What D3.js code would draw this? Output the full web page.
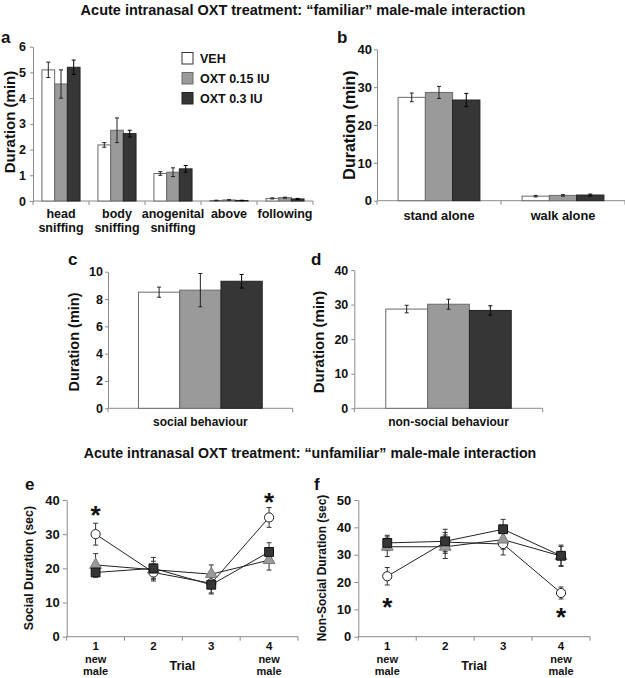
<!DOCTYPE html>
<html>
<head>
<meta charset="utf-8">
<script src="https://cdn.jsdelivr.net/npm/d3@7"></script>
<style>
body{margin:0;background:#fff;}
svg{display:block;font-family:"Liberation Sans",Arial,sans-serif;}
</style>
</head>
<body>
<script>
// ---------- DATA ----------
const seriesNames = ["VEH", "OXT 0.15 IU", "OXT 0.3 IU"];

// Panel a
const aCategories = [["head","sniffing"],["body","sniffing"],["anogenital","sniffing"],["above"],["following"]];
const aVEH = [5.1, 2.18, 1.07, 0.02, 0.10];
const aVEHerr = [0.30, 0.09, 0.07, 0.01, 0.02];
const aOXT015 = [4.55, 2.75, 1.12, 0.04, 0.13];
const aOXT015err = [0.55, 0.48, 0.17, 0.01, 0.02];
const aOXT03 = [5.2, 2.62, 1.25, 0.02, 0.08];
const aOXT03err = [0.28, 0.13, 0.13, 0.01, 0.02];
const aTicks = [0,1,2,3,4,5,6];

// Panel b
const bCategories = [["stand alone"],["walk alone"]];
const bVEH = [27.3, 1.2];   const bVEHerr = [1.15, 0.2];
const bOXT015 = [28.6, 1.4]; const bOXT015err = [1.6, 0.2];
const bOXT03 = [26.6, 1.5];  const bOXT03err = [1.75, 0.25];
const bTicks = [0,10,20,30,40];

// Panel c
const cCategories = [["social behaviour"]];
const cVEH = [8.5];   const cVEHerr = [0.37];
const cOXT015 = [8.65]; const cOXT015err = [1.22];
const cOXT03 = [9.3];  const cOXT03err = [0.5];
const cTicks = [0,2,4,6,8,10];

// Panel d
const dCategories = [["non-social behaviour"]];
const dVEH = [28.7];   const dVEHerr = [1.1];
const dOXT015 = [30.1]; const dOXT015err = [1.45];
const dOXT03 = [28.3];  const dOXT03err = [1.35];
const dTicks = [0,10,20,30,40];

// Panels e, f (trials)
const trials = ["1","2","3","4"];
const trialSub = [["new","male"],[],[],["new","male"]];
const eVEH = [30.0, 18.8, 15.6, 34.9];   const eVEHerr = [3.2, 2.5, 2.8, 2.9];
const eOXT015 = [21.0, 19.6, 18.3, 22.4]; const eOXT015err = [3.3, 2.5, 2.7, 2.9];
const eOXT03 = [18.8, 20.0, 15.2, 24.8];  const eOXT03err = [1.4, 3.2, 2.7, 2.7];
const eTicks = [0,10,20,30,40];
const eStars = [{trial:"1", value:37.1},{trial:"4", value:40.9}];

const fVEH = [22.1, 34.6, 33.9, 16.0];   const fVEHerr = [3.2, 3.5, 4.0, 2.2];
const fOXT015 = [32.9, 32.9, 35.5, 29.5]; const fOXT015err = [3.6, 4.3, 3.5, 3.5];
const fOXT03 = [34.3, 34.9, 39.3, 29.6];  const fOXT03err = [2.8, 4.4, 3.6, 3.9];
const fTicks = [0,10,20,30,40,50];
const fStars = [{trial:"1", value:12.8},{trial:"4", value:9.1}];

// ---------- STYLE ----------
const barFill = ["#ffffff", "#9a9a9a", "#363636"];
const barStroke = ["#6a6a6a", "#6a6a6a", "#222222"];
const axisColor = "#8a8a8a";
const FONT = '"Liberation Sans",Arial,sans-serif';
const NARROW = '"Liberation Sans Narrow","Arial Narrow","Liberation Sans",Arial,sans-serif';
const fmt = d3.format("d");

const svg = d3.select("body").append("svg").attr("width",625).attr("height",678);

// Titles
svg.append("text").attr("x",303).attr("y",15).attr("text-anchor","middle")
  .attr("font-weight","bold").attr("font-size",14.5).attr("fill","#111")
  .text("Acute intranasal OXT treatment: \u201cfamiliar\u201d male-male interaction");
svg.append("text").attr("x",310).attr("y",458).attr("text-anchor","middle")
  .attr("font-weight","bold").attr("font-size",14.2).attr("fill","#111")
  .text("Acute intranasal OXT treatment: \u201cunfamiliar\u201d male-male interaction");

function panelLetter(t,x,y){
  svg.append("text").attr("x",x).attr("y",y).attr("font-weight","bold")
    .attr("font-size",17).attr("fill","#111").text(t);
}
function yLabel(t,x,y,size){
  svg.append("text").attr("transform",`translate(${x},${y}) rotate(-90)`)
    .attr("text-anchor","middle").attr("dominant-baseline","central")
    .attr("font-weight","bold").attr("font-size",size).attr("fill","#111").text(t);
}

function styleYAxis(g, fs){
  g.select(".domain").attr("stroke",axisColor);
  g.selectAll(".tick line").attr("stroke",axisColor);
  g.selectAll(".tick text").attr("font-weight","bold").attr("font-size",fs)
    .attr("fill","#111").attr("font-family",FONT);
}

function barPanel(o){
  const x = d3.scaleBand().domain(o.cats.map((c,i)=>i)).range([o.x0,o.x1]).padding(0);
  const bw = x.bandwidth();
  const xs = d3.scaleBand().domain([0,1,2]).range([bw*o.gap, bw*(1-o.gap)]).padding(0);
  const y = d3.scaleLinear().domain([0,o.max]).range([o.yBot,o.yTop]);
  const g = svg.append("g");
  const ya = g.append("g").attr("transform",`translate(${o.x0},0)`)
    .call(d3.axisLeft(y).tickValues(o.ticks).tickFormat(fmt).tickSize(o.tickSize||3).tickPadding(o.tickPad||3).tickSizeOuter(0));
  styleYAxis(ya, o.fs);
  g.append("line").attr("x1",o.x0).attr("x2",o.x1).attr("y1",o.yBot).attr("y2",o.yBot).attr("stroke",axisColor);
  const bounds = o.cats.map((c,i)=>x(i)).concat([o.x1]);
  g.selectAll(".bt").data(bounds).join("line").attr("x1",d=>d).attr("x2",d=>d)
    .attr("y1",o.yBot).attr("y2",o.yBot+4).attr("stroke",axisColor);
  o.series.forEach((s,si)=>{
    const gg = g.append("g");
    gg.selectAll("rect").data(s.vals).join("rect")
      .attr("x",(d,i)=>x(i)+xs(si)).attr("width",xs.bandwidth())
      .attr("y",d=>y(d)).attr("height",d=>y(0)-y(d))
      .attr("fill",barFill[si]).attr("stroke",barStroke[si]).attr("stroke-width",1);
    const cap = 2;
    s.vals.forEach((v,i)=>{
      const cx = x(i)+xs(si)+xs.bandwidth()/2;
      const e = s.errs[i];
      const col = si===2 ? "#000" : "#222";
      gg.append("line").attr("x1",cx).attr("x2",cx).attr("y1",y(v+e)).attr("y2",y(Math.max(0,v-e))).attr("stroke",col);
      gg.append("line").attr("x1",cx-cap).attr("x2",cx+cap).attr("y1",y(v+e)).attr("y2",y(v+e)).attr("stroke",col);
      gg.append("line").attr("x1",cx-cap).attr("x2",cx+cap).attr("y1",y(Math.max(0,v-e))).attr("y2",y(Math.max(0,v-e))).attr("stroke",col);
    });
  });
  o.cats.forEach((c,i)=>{
    const t = g.append("text").attr("x",x(i)+bw/2).attr("y",o.labY).attr("text-anchor","middle")
      .attr("font-weight","bold").attr("font-size",o.labFs).attr("fill","#111")
      .attr("font-family",o.labFont||FONT);
    c.forEach((line,li)=>{
      t.append("tspan").attr("x",x(i)+bw/2).attr("dy",li===0?0:o.labLh).text(line);
    });
  });
  return {x,y};
}

// Panel a
barPanel({cats:aCategories, series:[
  {vals:aVEH,errs:aVEHerr},{vals:aOXT015,errs:aOXT015err},{vals:aOXT03,errs:aOXT03err}],
  x0:33,x1:313,yTop:46.7,yBot:201,max:6,ticks:aTicks,gap:0.16,fs:12.5,tickSize:3,tickPad:4,
  labY:218,labFs:12.5,labLh:13.5,labFont:NARROW});
panelLetter("a",1,43);
yLabel("Duration (min)",9,122,15);
seriesNames.forEach((n,i)=>{
  svg.append("rect").attr("x",182).attr("y",52.5+i*20).attr("width",11).attr("height",11.5)
    .attr("fill",barFill[i]).attr("stroke",i===0?"#333":barStroke[i]);
  svg.append("text").attr("x",200).attr("y",63+i*20).attr("font-weight","bold")
    .attr("font-size",12.5).attr("fill","#111").text(n);
});

// Panel b
barPanel({cats:bCategories, series:[
  {vals:bVEH,errs:bVEHerr},{vals:bOXT015,errs:bOXT015err},{vals:bOXT03,errs:bOXT03err}],
  x0:377,x1:625,yTop:49.3,yBot:200.7,max:40,ticks:bTicks,gap:0.17,fs:13,tickSize:3,tickPad:2,
  labY:220,labFs:12.8,labLh:14});
panelLetter("b",337,43);
yLabel("Duration (min)",349,125,16);

// Panel c
barPanel({cats:cCategories, series:[
  {vals:cVEH,errs:cVEHerr},{vals:cOXT015,errs:cOXT015err},{vals:cOXT03,errs:cOXT03err}],
  x0:108,x1:292.7,yTop:271.7,yBot:408.3,max:10,ticks:cTicks,gap:0.165,fs:12.5,tickSize:3,tickPad:2,
  labY:426,labFs:12,labLh:14});
panelLetter("c",68,265);
yLabel("Duration (min)",74,342,14.5);

// Panel d
barPanel({cats:dCategories, series:[
  {vals:dVEH,errs:dVEHerr},{vals:dOXT015,errs:dOXT015err},{vals:dOXT03,errs:dOXT03err}],
  x0:354.3,x1:542.7,yTop:270,yBot:408.3,max:40,ticks:dTicks,gap:0.167,fs:12.5,tickSize:3,tickPad:3,
  labY:426,labFs:12,labLh:14});
panelLetter("d",311,265);
yLabel("Duration (min)",318,342,15);

// ---------- line panels ----------
function linePanel(o){
  const x = d3.scaleBand().domain(trials).range([o.x0,o.x1]).padding(0);
  const bw = x.bandwidth();
  const cx = t => x(t)+bw/2;
  const y = d3.scaleLinear().domain([0,o.max]).range([o.yBot,o.yTop]);
  const g = svg.append("g");
  const ya = g.append("g").attr("transform",`translate(${o.x0},0)`)
    .call(d3.axisLeft(y).tickValues(o.ticks).tickFormat(fmt).tickSize(4).tickPadding(3).tickSizeOuter(0));
  styleYAxis(ya, 13);
  g.append("line").attr("x1",o.x0).attr("x2",o.x1).attr("y1",o.yBot).attr("y2",o.yBot).attr("stroke",axisColor);
  const bounds = trials.map(t=>x(t)).concat([o.x1]);
  g.selectAll(".bt").data(bounds).join("line").attr("x1",d=>d).attr("x2",d=>d)
    .attr("y1",o.yBot).attr("y2",o.yBot+4).attr("stroke",axisColor);
  trials.forEach((t,i)=>{
    g.append("text").attr("x",cx(t)).attr("y",650).attr("text-anchor","middle")
      .attr("font-weight","bold").attr("font-size",11.5).attr("fill","#111").text(t);
    if(trialSub[i].length){
      const tx = g.append("text").attr("x",cx(t)).attr("y",662.8).attr("text-anchor","middle")
        .attr("font-weight","bold").attr("font-size",11).attr("fill","#111");
      trialSub[i].forEach((s,si)=>{
        tx.append("tspan").attr("x",cx(t)).attr("dy",si===0?0:12.4).text(s);
      });
    }
  });
  g.append("text").attr("x",(o.x0+o.x1)/2).attr("y",670).attr("text-anchor","middle")
    .attr("font-weight","bold").attr("font-size",12.5).attr("fill","#111").text("Trial");
  const line = d3.line().x((d,i)=>cx(trials[i])).y(d=>y(d));
  o.series.forEach((s,si)=>{
    s.vals.forEach((v,i)=>{
      const px = cx(trials[i]), e = s.errs[i];
      const c = "#333";
      g.append("line").attr("x1",px).attr("x2",px).attr("y1",y(v+e)).attr("y2",y(v-e)).attr("stroke",c);
      [v+e,v-e].forEach(w=>g.append("line").attr("x1",px-2.5).attr("x2",px+2.5)
        .attr("y1",y(w)).attr("y2",y(w)).attr("stroke",c));
    });
  });
  o.series.forEach(s=>{
    g.append("path").datum(s.vals).attr("d",line).attr("fill","none").attr("stroke","#222").attr("stroke-width",1);
  });
  o.series.forEach((s,si)=>{
    s.vals.forEach((v,i)=>{
      const px = cx(trials[i]), py = y(v);
      if(si===0){
        g.append("circle").attr("cx",px).attr("cy",py).attr("r",4.6)
          .attr("fill","#fff").attr("stroke","#222").attr("stroke-width",1);
      } else if(si===1){
        g.append("path").attr("d",d3.symbol(d3.symbolTriangle,60)())
          .attr("transform",`translate(${px},${py})`).attr("fill","#9a9a9a").attr("stroke","#777");
      } else {
        g.append("path").attr("d",d3.symbol(d3.symbolSquare,78)())
          .attr("transform",`translate(${px},${py})`).attr("fill","#363636").attr("stroke","#111");
      }
    });
  });
  o.stars.forEach(s=>{
    g.append("text").attr("x",cx(s.trial)).attr("y",y(s.value)+14).attr("text-anchor","middle")
      .attr("font-weight","bold").attr("font-size",26).attr("fill","#111").text("*");
  });
}

linePanel({series:[{vals:eVEH,errs:eVEHerr},{vals:eOXT015,errs:eOXT015err},{vals:eOXT03,errs:eOXT03err}],
  x0:66.7,x1:298,yTop:500,yBot:636.7,max:40,ticks:eTicks,stars:eStars});
panelLetter("e",25,490);
yLabel("Social Duration (sec)",29,568,12.5);

linePanel({series:[{vals:fVEH,errs:fVEHerr},{vals:fOXT015,errs:fOXT015err},{vals:fOXT03,errs:fOXT03err}],
  x0:358.3,x1:590,yTop:500,yBot:636.7,max:50,ticks:fTicks,stars:fStars});
panelLetter("f",314,490);
yLabel("Non-Social  Duration (sec)",322,568,12);
</script>
</body>
</html>
